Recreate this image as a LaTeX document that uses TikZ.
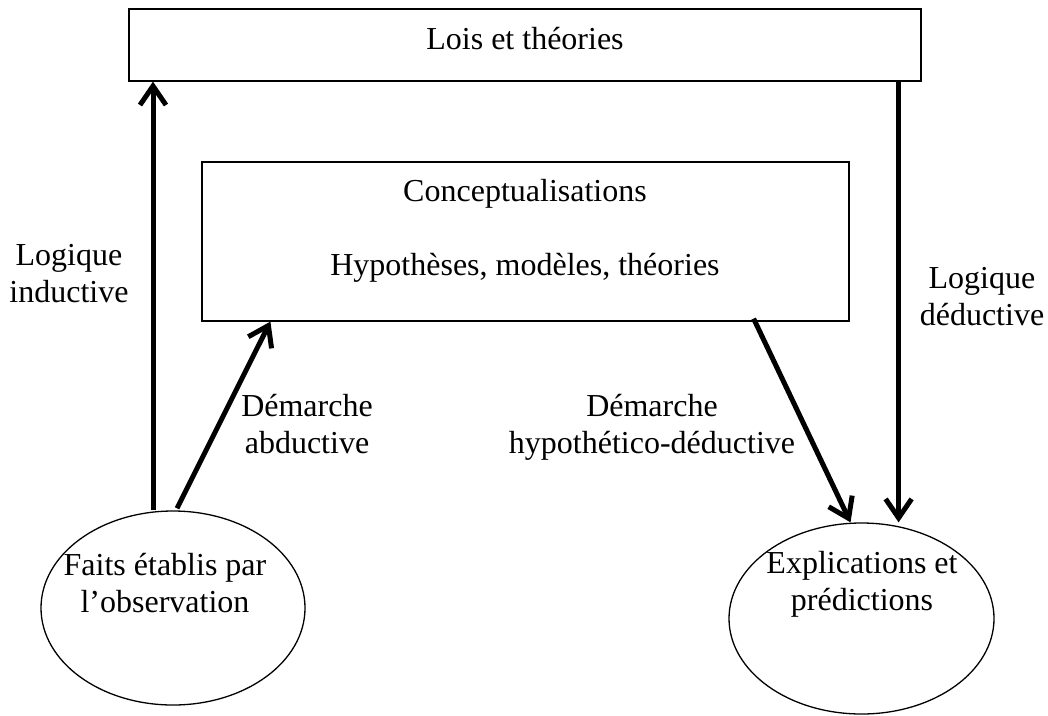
\documentclass[tikz,border=0pt]{standalone}
\usepackage{fontspec}
\setmainfont{Liberation Serif}
\usetikzlibrary{shapes.geometric,arrows.meta}
\newcommand\twolines[2]{\begin{tabular}[t]{@{}c@{}}#1\\#2\end{tabular}}
\tikzset{
  frame/.style={draw=black, line width=1.2pt, inner sep=0pt, fill=none},
  oval/.style={draw=black, line width=1.3pt, ellipse, inner sep=0pt},
  txt/.style={anchor=base, inner sep=0pt, font=\fontsize{32}{37}\selectfont},
  flow/.style={line width=5pt, -{Straight Barb[length=19pt,width=26pt]}}
}
\begin{document}
\begin{tikzpicture}[x=1pt,y=-1pt]
\useasboundingbox (0,0) rectangle (1048,715);
\fill[white] (0,0) rectangle (1048,715);
% boxes
\node[frame, minimum width=792pt, minimum height=72pt] (lt) at (525,45) {};
\node[frame, minimum width=647pt, minimum height=159pt] (mid) at (525.5,241.5) {};
\node[oval, minimum width=264pt, minimum height=194pt] (fe) at (173,608) {};
\node[oval, minimum width=265pt, minimum height=191pt] (ep) at (861.5,618.5) {};
% texts
\node[txt] (tlt) at (525,49) {Lois et théories};
\node[txt] (tc) at (525,201) {Conceptualisations};
\node[txt] (th) at (525,275) {Hypothèses, modèles, théories};
\node[txt] (tfe) at (165,575) {\twolines{Faits établis par}{l’observation}};
\node[txt] (tep) at (862,573) {\twolines{Explications et}{prédictions}};
\node[txt] (tli) at (69,265) {\twolines{Logique}{inductive}};
\node[txt] (tld) at (982,288) {\twolines{Logique}{déductive}};
\node[txt] (tda) at (307,416) {\twolines{Démarche}{abductive}};
\node[txt] (tdh) at (652,416) {\twolines{Démarche}{hypothético-déductive}};
% connectors
\draw[flow] ([xshift=-20pt]fe.north) -- ([xshift=-20pt]fe.north |- lt.south);
\draw[flow] ([xshift=4pt,yshift=2pt]fe.north) -- ([xshift=69pt]mid.south west);
\draw[flow] ([xshift=-96pt,yshift=3pt]mid.south east) -- ([xshift=-11pt]ep.north);
\draw[flow] ([xshift=-23pt]lt.south east) -- ([xshift=-23pt]lt.south east |- ep.north);
\end{tikzpicture}
\end{document}
